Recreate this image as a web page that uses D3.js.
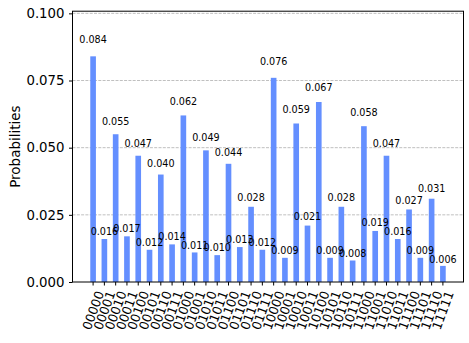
<!DOCTYPE html>
<html><head><meta charset="utf-8">
<script src="https://cdn.jsdelivr.net/npm/d3@7"></script>
<style>body{margin:0;background:#fff}svg{display:block}text{font-family:"DejaVu Sans",sans-serif}</style>
</head><body>
<svg id="c" width="469" height="343"></svg>
<script>
const states = ["00000","00001","00010","00011","00100","00101","00110","00111",
"01000","01001","01010","01011","01100","01101","01110","01111",
"10000","10001","10010","10011","10100","10101","10110","10111",
"11000","11001","11010","11011","11100","11101","11110","11111"];
const probs = [0.084,0.016,0.055,0.017,0.047,0.012,0.040,0.014,
0.062,0.011,0.049,0.010,0.044,0.013,0.028,0.012,
0.076,0.009,0.059,0.021,0.067,0.009,0.028,0.008,
0.058,0.019,0.047,0.016,0.027,0.009,0.031,0.006];
const yTicks = [0, 0.025, 0.05, 0.075, 0.1];

const svg = d3.select("#c");
const L = 72.5, R = 463.5, T = 11.2, B = 282;
const n = states.length;
const x = d3.scaleLinear().domain([-1.825, n - 1 + 1.825]).range([L, R]);
const y = d3.scaleLinear().domain([0, 0.1008]).range([B, T]);
const bw = x(0.5) - x(0);

// grid
svg.append("g").selectAll("line").data(yTicks.slice(1)).join("line")
  .attr("x1", L).attr("x2", R).attr("y1", d => y(d)).attr("y2", d => y(d))
  .attr("stroke", "#b0b0b0").attr("stroke-width", 0.8).attr("stroke-dasharray", "3,1.3");

// bars
svg.append("g").selectAll("rect").data(probs).join("rect")
  .attr("x", (d, i) => x(i) - bw / 2).attr("width", bw)
  .attr("y", d => y(d)).attr("height", d => B - y(d))
  .attr("fill", "#648fff");

// bar labels
svg.append("g").selectAll("text").data(probs).join("text")
  .attr("x", (d, i) => x(i)).attr("y", d => y(d * 1.05) - 2.3)
  .attr("text-anchor", "middle").attr("font-size", 9.6).attr("fill", "#000")
  .text(d => d.toFixed(3));

// frame
svg.append("rect").attr("x", L).attr("y", T).attr("width", R - L).attr("height", B - T)
  .attr("fill", "none").attr("stroke", "#000").attr("stroke-width", 1);

// y axis
const yAxis = d3.axisLeft(y).tickValues(yTicks).tickFormat(d3.format(".3f")).tickSize(3.5).tickPadding(4.5);
const gy = svg.append("g").attr("transform", `translate(${L},0)`).call(yAxis);
gy.select(".domain").remove();
gy.selectAll("text").attr("font-size", 13.3).attr("fill", "#000").attr("font-family", "DejaVu Sans");
gy.selectAll("line").attr("stroke", "#000");

// x axis ticks
const gx = svg.append("g");
gx.selectAll("line").data(states).join("line")
  .attr("x1", (d, i) => x(i)).attr("x2", (d, i) => x(i)).attr("y1", B).attr("y2", B + 3.5)
  .attr("stroke", "#000");
const fs = 12.6, ang = 70 * Math.PI / 180;
gx.selectAll("text").data(states).join("text")
  .attr("font-size", fs).attr("fill", "#000")
  .attr("text-anchor", "middle").attr("dominant-baseline", "central")
  .text(d => d)
  .each(function (d, i) {
    const len = this.getComputedTextLength();
    const h = fs * 1.17;
    const bh = len * Math.sin(ang) + h * Math.cos(ang);
    const cx = x(i), cy = B + 3.5 + 3.5 + bh / 2;
    d3.select(this).attr("transform", `translate(${cx},${cy}) rotate(-70)`);
  });

// y label
svg.append("text").attr("transform", `translate(15,${(T + B) / 2}) rotate(-90)`)
  .attr("text-anchor", "middle").attr("dominant-baseline", "central")
  .attr("font-size", 13.5).attr("fill", "#000").text("Probabilities");
</script>
</body></html>
